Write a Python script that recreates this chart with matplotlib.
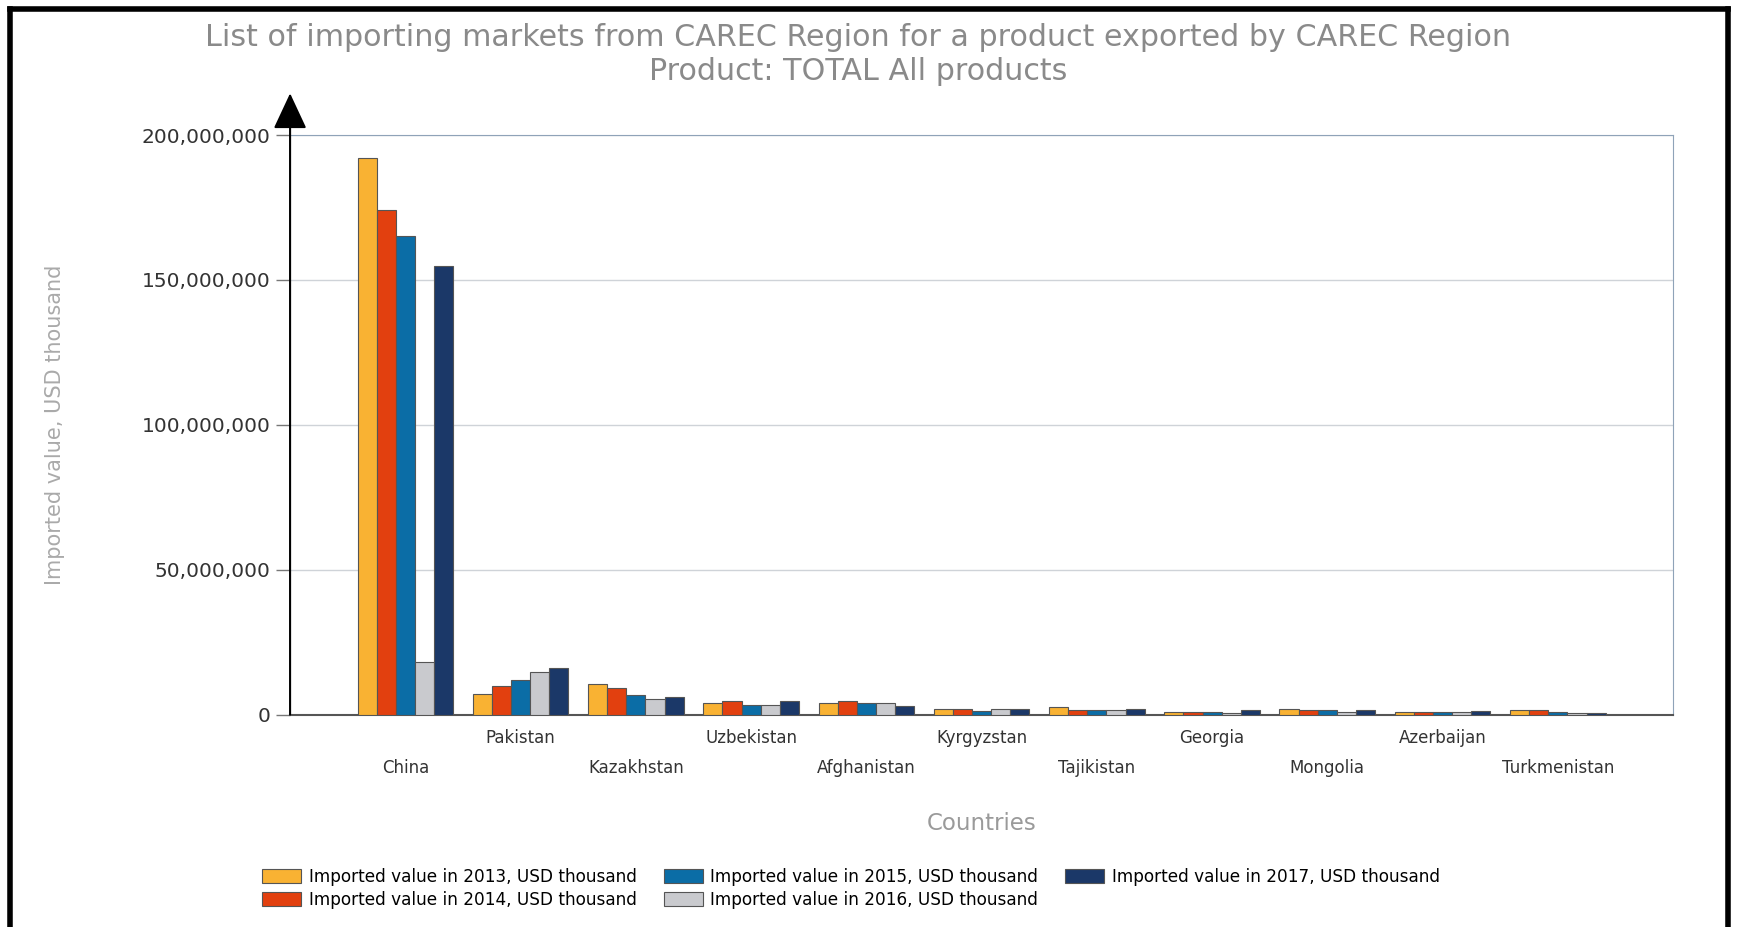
import numpy as np
import matplotlib
matplotlib.use("Agg")
import matplotlib.pyplot as plt
from matplotlib.lines import Line2D

# data (USD thousand)
countries = ['China', 'Pakistan', 'Kazakhstan', 'Uzbekistan', 'Afghanistan', 'Kyrgyzstan',
             'Tajikistan', 'Georgia', 'Mongolia', 'Azerbaijan', 'Turkmenistan']
years = ['2013', '2014', '2015', '2016', '2017']
v2013 = [192.0e6, 7.2e6, 10.7e6, 4.0e6, 4.0e6, 2.0e6, 2.5e6, 0.8e6, 1.8e6, 1.0e6, 1.7e6]
v2014 = [174.2e6, 10.0e6, 9.2e6, 4.6e6, 4.6e6, 2.0e6, 1.4e6, 0.8e6, 1.4e6, 1.0e6, 1.6e6]
v2015 = [165.3e6, 11.8e6, 6.7e6, 3.3e6, 4.0e6, 1.1e6, 1.4e6, 0.8e6, 1.4e6, 0.9e6, 0.9e6]
v2016 = [18.0e6, 14.6e6, 5.2e6, 3.2e6, 4.0e6, 2.0e6, 1.6e6, 0.7e6, 1.0e6, 0.9e6, 0.5e6]
v2017 = [154.8e6, 16.0e6, 6.1e6, 4.5e6, 2.8e6, 2.0e6, 2.0e6, 1.6e6, 1.6e6, 1.1e6, 0.5e6]
series = [v2013, v2014, v2015, v2016, v2017]
colors = ['#F9B233', '#E2400F', '#0B6DA6', '#C9CACE', '#1B3868']
yticks = [0, 50e6, 100e6, 150e6, 200e6]

fig = plt.figure(figsize=(17.37, 9.27), dpi=100)
ax = fig.add_axes([0.167, 0.2292, 0.7962, 0.6251])

x = np.arange(1, len(countries) + 1)
w = 0.166
for k, (vals, c, yr) in enumerate(zip(series, colors, years)):
    ax.bar(x + (k - 2) * w, vals, width=w, color=c, edgecolor='#555555', linewidth=0.8,
           label='Imported value in %s, USD thousand' % yr, zorder=3)

ax.set_xlim(0, 12)
ax.set_ylim(0, 200e6)
ax.set_yticks(yticks)
ax.set_yticklabels(['{:,.0f}'.format(v) for v in yticks], fontsize=14.5, color='#333333')
ax.yaxis.grid(True, color='#cfd3d8', linewidth=1, zorder=0)
ax.tick_params(axis='y', length=10, width=1, color='#777777', pad=4)

ax.set_xticks(x)
ax.set_xticklabels(countries, fontsize=12, color='#333333')
ax.tick_params(axis='x', length=0)
for i, t in enumerate(ax.xaxis.get_major_ticks()):
    t.set_pad(32 if i % 2 == 0 else 10.5)

ax.spines['left'].set_visible(False)
ax.spines['top'].set_color('#8fa3b8')
ax.spines['right'].set_color('#8fa3b8')
ax.spines['bottom'].set_color('#555555')
ax.spines['bottom'].set_linewidth(1.5)

# y axis with arrow head
ax.annotate('', xy=(0, 1.072), xytext=(0, 0), xycoords='axes fraction',
            arrowprops=dict(arrowstyle='-|>,head_length=0.75,head_width=0.35',
                            mutation_scale=30, color='black', lw=1.5,
                            shrinkA=0, shrinkB=0), annotation_clip=False)

ax.set_ylabel('Imported value, USD thousand', fontsize=15, color='#aaaaaa', labelpad=0)
ax.yaxis.set_label_coords(-0.163, 0.5)
ax.set_xlabel('Countries', fontsize=16.5, color='#9a9a9a')
ax.xaxis.set_label_coords(0.5, -0.168)

fig.text(0.494, 0.96, 'List of importing markets from CAREC Region for a product exported by CAREC Region',
         ha='center', va='center', fontsize=21.7, color='#8a8a8a')
fig.text(0.494, 0.923, 'Product: TOTAL All products',
         ha='center', va='center', fontsize=21.7, color='#8a8a8a')

ax.legend(ncol=3, loc='upper left', bbox_to_anchor=(0.147, 0.071), bbox_transform=fig.transFigure,
          frameon=False, fontsize=12.2, handlelength=2.3, handleheight=0.9,
          columnspacing=1.6, labelspacing=0.3, handletextpad=0.45, borderaxespad=0)

# outer frame
fr = dict(color='black', linewidth=4, transform=fig.transFigure)
fig.add_artist(Line2D([0.006, 0.006], [0, 0.99], **fr))
fig.add_artist(Line2D([0.006, 0.995], [0.99, 0.99], **fr))
fig.add_artist(Line2D([0.995, 0.995], [0, 0.99], **fr))

fig.savefig('out.png', dpi=100)
